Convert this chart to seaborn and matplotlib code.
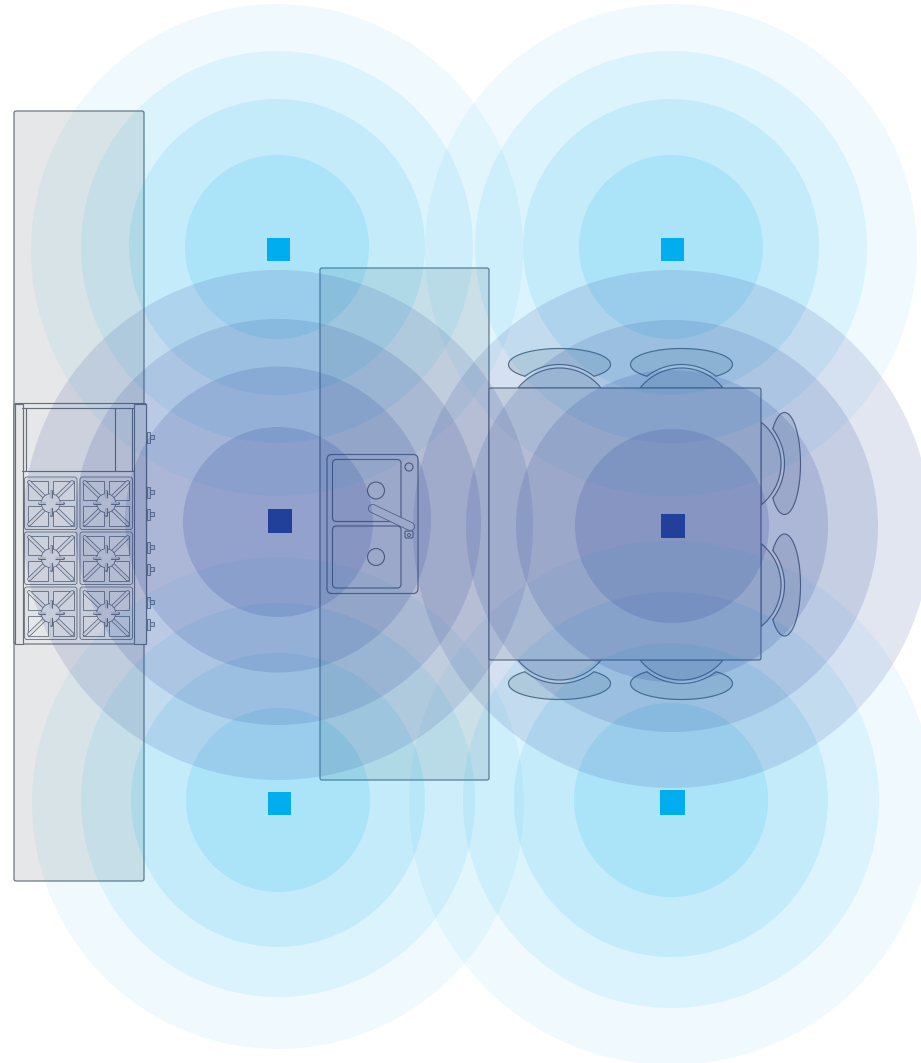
import numpy as np
import pandas as pd
import matplotlib
matplotlib.use("Agg")
import matplotlib.pyplot as plt
from matplotlib.patches import Circle, Rectangle, FancyBboxPatch, Polygon
import seaborn as sns

# --- lights ---
light_x = [277, 671, 278, 672, 278, 671]
light_y = [247, 247, 522, 526, 800, 800]
light_kind = ["spot", "spot", "pendant", "pendant", "spot", "spot"]
light_radii = [
    [246, 196, 148, 92],
    [246, 196, 148, 92],
    [255, 203, 153, 95],
    [259, 206, 156, 97],
    [246, 197, 147, 92],
    [262, 208, 157, 97],
]
# rings are not quite concentric in the plan
light_shift = [
    [3, 0, 0, 0],
    [3, 0, 0, 0],
    [3, 0, -2.5, 0],
    [3, 0, 0, 0],
    [3, 0, 0, 0],
    [3, 0, 0, 0],
]
square_x = [278.5, 672.5, 280, 673, 279.5, 672.5]
square_y = [249.5, 249.5, 521, 526, 803.5, 802.5]
square_side = [23, 23, 24, 24, 23, 25]

ring_alpha = {"spot": [0.06, 0.085, 0.10, 0.125], "pendant": [0.13, 0.14, 0.155, 0.175]}
colors = {"spot": "#00AEEF", "pendant": "#21409A"}

# --- furniture (pixels of the plan) ---
counter = [14, 111, 130, 770]
island = [320, 268, 169, 512]
table = [489, 388, 272, 272]
range_body = [14, 403.5, 132.5, 240.5]
knob_y = [437, 492, 514, 547, 569, 602, 624]
grate_x = [24.5, 80]
grate_y = [477, 532, 587]
chairs_top = [559.5, 681.5]
chairs_right = [463.5, 585]

LINE = "#666f7a"
FILL = "#E6E7E8"
LW = 0.85
LW_THIN = 0.6

sns.set_theme(style="white")
fig = plt.figure(figsize=(9.21, 10.63), dpi=100)
ax = fig.add_axes([0, 0, 1, 1])
ax.set_xlim(0, 921)
ax.set_ylim(1063, 0)
ax.axis("off")


def rbox(x, y, w, h, r=2, fc=FILL, lw=LW, z=2):
    p = FancyBboxPatch((x + r, y + r), w - 2 * r, h - 2 * r, boxstyle=f"round,pad={r},rounding_size={r}",
                       fc=fc, ec=LINE, lw=lw, zorder=z)
    ax.add_patch(p)


def slot(x0, y0, x1, y1, w=3.4, z=3, fc=FILL):
    ax.plot([x0, x1], [y0, y1], color=LINE, lw=w, solid_capstyle="round", zorder=z)
    ax.plot([x0, x1], [y0, y1], color=fc, lw=w - 1.1, solid_capstyle="round", zorder=z)


def chair(pos, edge, side):
    # u runs along the table edge, v points away from it
    def to_xy(u, v):
        if side == "top":
            return pos + u, edge - v
        if side == "bottom":
            return pos + u, edge + v
        return edge + v, pos + u

    # back: ellipse with the seat circle bitten out of it
    t = np.linspace(-0.9, np.pi + 0.9, 240)
    u, v = 51 * np.cos(t), 23.5 + 16 * np.sin(t)
    keep = np.hypot(u, v + 33) > 56.5
    u, v = u[keep], v[keep]
    a0 = np.arctan2(v[0] + 33, u[0])
    a1 = np.arctan2(v[-1] + 33, u[-1])
    a = np.linspace(a1, a0, 40)
    u = np.concatenate([u, 56.5 * np.cos(a)])
    v = np.concatenate([v, 56.5 * np.sin(a) - 33])
    ax.add_patch(Polygon(np.column_stack(to_xy(u, v)), closed=True, fc=FILL, ec=LINE, lw=LW, zorder=1.2))

    a = np.linspace(np.arcsin(33 / 53), np.pi - np.arcsin(33 / 53), 60)
    su, sv = 53 * np.cos(a), 53 * np.sin(a) - 33
    ax.add_patch(Polygon(np.column_stack(to_xy(su, sv)), closed=True, fc=FILL, ec=LINE, lw=LW, zorder=1.3))


# --- chairs sit under the table ---
for c in chairs_top:
    chair(c, table[1], "top")
    chair(c, table[1] + table[3], "bottom")
for c in chairs_right:
    chair(c, table[0] + table[2], "right")

rbox(*counter)
rbox(*island, z=1.6)
rbox(*table, z=1.6)

# --- sink ---
rbox(327, 454.5, 91, 139, r=5)
rbox(332.5, 459.5, 68.5, 62, r=4)
rbox(332.5, 526, 68.5, 62, r=4)
for cy in [490.5, 557]:
    ax.add_patch(Circle((376, cy), 8.5, fc=FILL, ec=LINE, lw=LW, zorder=3))
ax.add_patch(Circle((409, 467), 4, fc=FILL, ec=LINE, lw=LW, zorder=3))
rbox(405, 531, 8, 7, r=1.5, z=3)
ax.add_patch(Circle((409, 535), 1.5, fc=FILL, ec=LINE, lw=0.7, zorder=3.1))
slot(372.5, 508.5, 410.5, 526.5, w=6.5, z=3.2)

# --- range ---
rbox(*range_body, r=2)
ax.add_patch(Rectangle((134.3, 404), 12, 239.5, fc="#e2e3e6", ec=LINE, lw=LW, zorder=2.1))
ax.add_patch(Rectangle((14.5, 404), 8, 239.5, fc=FILL, ec=LINE, lw=LW, zorder=2.1))
ax.plot([22, 134], [408, 408], color=LINE, lw=LW, zorder=2.2)
ax.plot([22, 134], [470.5, 470.5], color=LINE, lw=LW, zorder=2.2)
for vx in [25.7, 115, 131.7]:
    ax.plot([vx, vx], [408, 470.5], color=LINE, lw=LW, zorder=2.2)
for ky in knob_y:
    ax.add_patch(Rectangle((146.5, ky - 5.5), 3.5, 11, fc=FILL, ec=LINE, lw=LW_THIN, zorder=2))
    ax.add_patch(Rectangle((150, ky - 1.8), 3.5, 3.6, fc=FILL, ec=LINE, lw=LW_THIN, zorder=2))

GRATE = "#e0e1e4"
for gx in grate_x:
    for gy in grate_y:
        rbox(gx, gy, 52.5, 52.5, r=2.5, fc=GRATE, lw=LW_THIN, z=2.4)
        cx, cy = gx + 26.2, gy + 26.2
        for dx in [-1, 1]:
            for dy in [-1, 1]:
                x0, x1 = sorted([cx + dx * 2.5, cx + dx * 23])
                y0, y1 = sorted([cy + dy * 2.8, cy + dy * 22.5])
                ax.add_patch(Rectangle((x0, y0), x1 - x0, y1 - y0, fc=FILL, ec=LINE, lw=LW_THIN, zorder=2.5))
                slot(cx + dx * 7, cy + dy * 7, cx + dx * 21.5, cy + dy * 21, w=3.0, z=2.7, fc=GRATE)
        ax.add_patch(Circle((cx, cy), 9.5, fc=GRATE, ec=LINE, lw=LW_THIN, zorder=2.8))
        for ox, oy in [(1, 0), (-1, 0), (0, 1), (0, -1)]:
            slot(cx + ox * 4.5, cy + oy * 4.5, cx + ox * 12, cy + oy * 12, w=2.2, z=2.9, fc=GRATE)
        ax.add_patch(Circle((cx, cy), 5, fc=GRATE, ec="none", zorder=2.95))

# --- light rings, biggest first ---
for kind in ["spot", "pendant"]:
    for x, y, k, radii, shifts in zip(light_x, light_y, light_kind, light_radii, light_shift):
        if k != kind:
            continue
        for r, a, s in zip(radii, ring_alpha[k], shifts):
            ax.add_patch(Circle((x, y + s), r, fc=colors[k], ec="none", alpha=a, zorder=5))

# --- fixtures ---
fixtures = pd.DataFrame({"x": square_x, "y": square_y, "kind": light_kind, "side": square_side})
sns.scatterplot(data=fixtures, x="x", y="y", hue="kind", palette=colors, size="side",
                sizes={s: (s * 0.72) ** 2 for s in set(square_side)},
                marker="s", linewidth=0, legend=False, ax=ax, zorder=6)
ax.set_xlim(0, 921)
ax.set_ylim(1063, 0)
ax.axis("off")

fig.savefig("out.png", dpi=100, facecolor="white")
